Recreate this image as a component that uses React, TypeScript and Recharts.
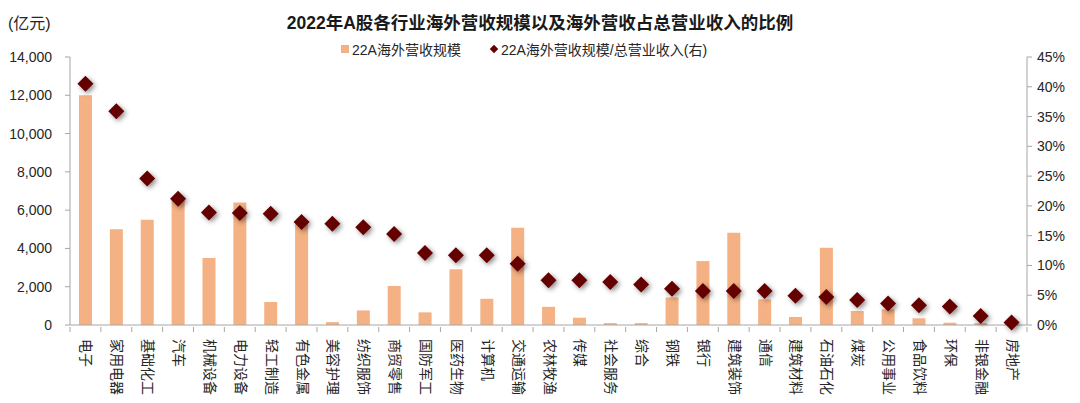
import React from "react";
import {
  ComposedChart,
  Bar,
  Scatter,
  XAxis,
  YAxis,
} from "recharts";

const categories = [
  "电子", "家用电器", "基础化工", "汽车", "机械设备", "电力设备", "轻工制造", "有色金属",
  "美容护理", "纺织服饰", "商贸零售", "国防军工", "医药生物", "计算机", "交通运输", "农林牧渔",
  "传媒", "社会服务", "综合", "钢铁", "银行", "建筑装饰", "通信", "建筑材料",
  "石油石化", "煤炭", "公用事业", "食品饮料", "环保", "非银金融", "房地产",
];

// 22A海外营收规模（亿元）
const overseasRevenue = [
  12000, 5000, 5500, 6600, 3500, 6400, 1200, 5400,
  150, 760, 2040, 660, 2910, 1370, 5080, 950,
  380, 100, 100, 1440, 3340, 4820, 1340, 420,
  4040, 730, 820, 350, 120, 100, 50,
];

// 22A海外营收规模/总营业收入
const overseasRatio = [
  0.405, 0.359, 0.246, 0.212, 0.189, 0.188, 0.187, 0.173,
  0.17, 0.164, 0.153, 0.121, 0.117, 0.117, 0.103, 0.075,
  0.075, 0.072, 0.068, 0.061, 0.057, 0.057, 0.057, 0.049,
  0.047, 0.042, 0.036, 0.033, 0.031, 0.015, 0.004,
];

const leftTicks = [0, 2000, 4000, 6000, 8000, 10000, 12000, 14000];
const rightTicks = [0, 0.05, 0.1, 0.15, 0.2, 0.25, 0.3, 0.35, 0.4, 0.45];

const data = categories.map((name, i) => ({
  name,
  revenue: overseasRevenue[i],
  ratio: overseasRatio[i],
}));

const BAR_COLOR = "#F4B183";
const DOT_COLOR = "#650000";
const AXIS_COLOR = "#a6a6a6";
const TEXT_COLOR = "#262626";
const FONT = "'Liberation Sans', Arial, 'Noto Sans CJK SC', sans-serif";

const CategoryTick = (props: any) => {
  const { x, y, payload, index } = props;
  const half = payload && payload.offset ? payload.offset : 15.4;
  return (
    <g>
      <line x1={x - half} x2={x - half} y1={y} y2={y + 5} stroke={AXIS_COLOR} />
      {index === categories.length - 1 && (
        <line x1={x + half} x2={x + half} y1={y} y2={y + 5} stroke={AXIS_COLOR} />
      )}
      <text
        transform={`translate(${x + 1},${y + 12}) rotate(90)`}
        textAnchor="start"
        dominantBaseline="central"
        fontSize={14}
        fill={TEXT_COLOR}
        fontFamily={FONT}
      >
        {payload.value}
      </text>
    </g>
  );
};

const Diamond = (props: any) => {
  const { cx, cy } = props;
  if (cx == null || cy == null) return null;
  const r = 8;
  return (
    <polygon
      points={`${cx},${cy - r} ${cx + r},${cy} ${cx},${cy + r} ${cx - r},${cy}`}
      fill={DOT_COLOR}
      filter="url(#dotShadow)"
    />
  );
};

export default function App() {
  return (
    <div
      style={{
        position: "absolute",
        left: 0,
        top: 0,
        width: 1080,
        height: 403,
        background: "#fff",
        fontFamily: FONT,
        color: TEXT_COLOR,
      }}
    >
      <svg width={0} height={0} style={{ position: "absolute" }}>
        <defs>
          <filter id="dotShadow" x="-100%" y="-100%" width="300%" height="300%">
            <feDropShadow dx="2" dy="2" stdDeviation="2.5" floodColor="#000" floodOpacity="0.45" />
          </filter>
        </defs>
      </svg>
      <div
        style={{
          position: "absolute",
          left: 0,
          width: 1080,
          top: 9,
          textAlign: "center",
          fontSize: 17.5,
          fontWeight: "bold",
          color: "#1a1a1a",
        }}
      >
        2022年A股各行业海外营收规模以及海外营收占总营业收入的比例
      </div>
      <div style={{ position: "absolute", left: 8, top: 10, fontSize: 16 }}>(亿元)</div>
      <div
        style={{
          position: "absolute",
          left: 341,
          top: 39,
          fontSize: 14,
          display: "flex",
          alignItems: "center",
          whiteSpace: "nowrap",
        }}
      >
        <span style={{ display: "inline-block", width: 8, height: 8, background: BAR_COLOR, marginRight: 3 }} />
        <span>22A海外营收规模</span>
        <span
          style={{
            display: "inline-block",
            width: 6,
            height: 6,
            background: DOT_COLOR,
            transform: "rotate(45deg)",
            marginLeft: 30,
            marginRight: 4,
          }}
        />
        <span>22A海外营收规模/总营业收入(右)</span>
      </div>
      <ComposedChart
        width={1080}
        height={403}
        data={data}
        margin={{ top: 57, right: 0, bottom: 0, left: 0 }}
        barCategoryGap={0}
      >
        <XAxis
          dataKey="name"
          interval={0}
          height={78}
          tickSize={0}
          tickLine={false}
          axisLine={{ stroke: AXIS_COLOR }}
          tick={<CategoryTick />}
        />
        <YAxis
          yAxisId="left"
          width={70}
          domain={[0, 14000]}
          ticks={leftTicks}
          tickSize={5}
          tickMargin={13}
          axisLine={{ stroke: AXIS_COLOR }}
          tickLine={{ stroke: AXIS_COLOR }}
          tick={{ fontSize: 14, fill: TEXT_COLOR, fontFamily: FONT }}
          tickFormatter={(v: number) => v.toLocaleString("en-US")}
        />
        <YAxis
          yAxisId="right"
          orientation="right"
          width={53}
          domain={[0, 0.45]}
          ticks={rightTicks}
          tickSize={5}
          tickMargin={5}
          axisLine={{ stroke: AXIS_COLOR }}
          tickLine={{ stroke: AXIS_COLOR }}
          tick={{ fontSize: 14, fill: TEXT_COLOR, fontFamily: FONT }}
          tickFormatter={(v: number) => `${Math.round(v * 100)}%`}
        />
        <Bar yAxisId="left" dataKey="revenue" fill={BAR_COLOR} barSize={13} isAnimationActive={false} />
        <Scatter yAxisId="right" dataKey="ratio" shape={<Diamond />} isAnimationActive={false} />
      </ComposedChart>
    </div>
  );
}
